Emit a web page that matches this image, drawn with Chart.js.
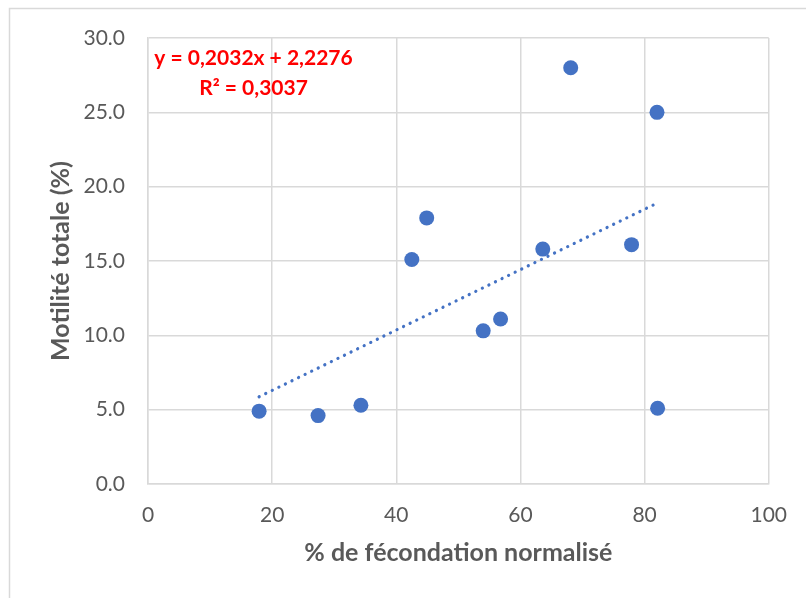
<!DOCTYPE html>
<html>
<head>
<meta charset="utf-8">
<script src="https://cdn.jsdelivr.net/npm/chart.js@4/dist/chart.umd.min.js"></script>
<style>
  html, body { margin: 0; padding: 0; background: #fff; }
  #wrap { width: 806px; height: 598px; }
</style>
</head>
<body>
<div id="wrap"><canvas id="chart" width="806" height="598"></canvas></div>
<script>
// data
const fecondation = [17.9, 27.4, 34.3, 42.5, 44.9, 54.0, 56.8, 63.6, 68.1, 77.9, 82.0, 82.1];
const motilite    = [4.9, 4.6, 5.3, 15.1, 17.9, 10.3, 11.1, 15.8, 28.0, 16.1, 25.0, 5.1];
// trendline ends, as drawn
const trendX = [17.9, 81.9];
const trendY = [5.87, 18.87];
const equationLines = ["y = 0,2032x + 2,2276", "R² = 0,3037"];
const xTitle = "% de fécondation normalisé";
const yTitle = "Motilité totale (%)";

const GREY = "#595959";
const GRID = "#d9d9d9";
const BLUE = "#4472C4";

Chart.defaults.font.family = "Lato, 'Open Sans', sans-serif";
Chart.defaults.color = GREY;

// outer chart frame + equation label
const extras = {
  id: "extras",
  beforeDraw(chart) {
    const ctx = chart.ctx;
    ctx.save();
    ctx.fillStyle = "#fff";
    ctx.fillRect(0, 0, chart.width, chart.height);
    ctx.strokeStyle = GRID;
    ctx.lineWidth = 1.5;
    ctx.strokeRect(9.5, 8.5, 900, 700);
    ctx.restore();
  },
  afterDatasetsDraw(chart) {
    const ctx = chart.ctx, a = chart.chartArea;
    ctx.save();
    ctx.fillStyle = "#ff0000";
    ctx.font = "bold 21px Lato, sans-serif";
    ctx.textAlign = "center";
    ctx.textBaseline = "middle";
    ctx.fillText(equationLines[0], a.left + 105.5, a.top + 20);
    ctx.fillText(equationLines[1], a.left + 105.5, a.top + 50);
    ctx.restore();
  }
};

const scatterPts = fecondation.map((x, i) => ({ x, y: motilite[i] }));
const trendPts = trendX.map((x, i) => ({ x, y: trendY[i] }));

new Chart(document.getElementById("chart"), {
  type: "scatter",
  data: {
    datasets: [
      {
        label: "Motilité",
        data: scatterPts,
        backgroundColor: BLUE,
        borderColor: BLUE,
        pointRadius: 7.5,
        pointBorderWidth: 0
      },
      {
        label: "Tendance",
        data: trendPts,
        showLine: true,
        pointRadius: 0,
        borderColor: BLUE,
        borderWidth: 3.2,
        borderCapStyle: "round",
        borderDash: [0.1, 7.2],
        order: 2
      }
    ]
  },
  options: {
    responsive: false,
    animation: false,
    layout: { padding: { left: 0, top: 38, right: 37, bottom: 0 } },
    plugins: { legend: { display: false }, tooltip: { enabled: false } },
    scales: {
      x: {
        type: "linear",
        min: 0, max: 100,
        ticks: { stepSize: 20, padding: 19, font: { size: 21 }, color: GREY },
        grid: { color: GRID, lineWidth: 1.5, drawTicks: false },
        border: { color: GRID, width: 1.5 },
        title: { display: true, text: xTitle, color: GREY,
                 font: { size: 25, weight: "bold" }, padding: { top: 0, bottom: 30 } },
        afterFit(s) { s.height = 114; }
      },
      y: {
        min: 0, max: 30,
        ticks: { stepSize: 5, padding: 23, font: { size: 21 }, color: GREY,
                 callback: v => v.toFixed(1) },
        grid: { color: GRID, lineWidth: 1.5, drawTicks: false },
        border: { color: GRID, width: 1.5 },
        title: { display: true, text: yTitle, color: GREY,
                 font: { size: 25, weight: "bold" }, padding: { top: 46, bottom: 0 } },
        afterFit(s) { s.width = 148; }
      }
    }
  },
  plugins: [extras]
});
</script>
</body>
</html>
